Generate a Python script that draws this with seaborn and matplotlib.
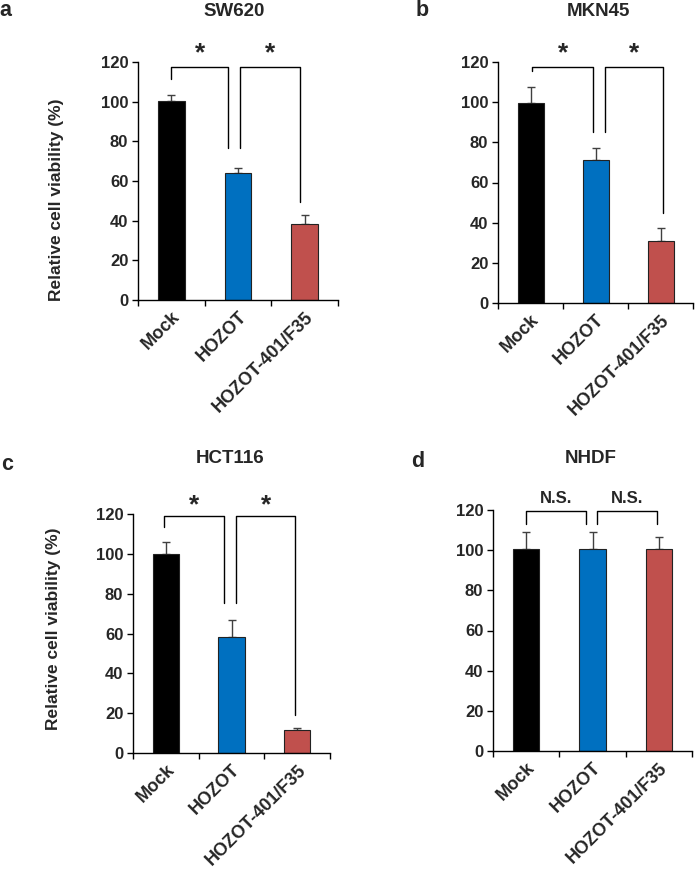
import matplotlib
matplotlib.use("Agg")
import matplotlib.pyplot as plt
import seaborn as sns
import pandas as pd
import numpy as np

sns.set_style("white")
plt.rcParams['font.family'] = ['Liberation Sans', 'DejaVu Sans']
plt.rcParams['font.weight'] = 'bold'

groups = ["Mock", "HOZOT", "HOZOT-401/F35"]
colors = ["#000000", "#0070C0", "#C0504D"]

sw620_vals = [100.3, 63.8, 38.3]
sw620_err = [3.3, 3.0, 4.8]
mkn45_vals = [99.8, 71.1, 30.9]
mkn45_err = [7.8, 6.1, 6.2]
hct116_vals = [99.9, 58.0, 11.3]
hct116_err = [5.9, 8.9, 1.5]
nhdf_vals = [100.5, 100.5, 100.5]
nhdf_err = [8.7, 8.7, 5.9]

titles = ["SW620", "MKN45", "HCT116", "NHDF"]
letters = ["a", "b", "c", "d"]
yticks = [0, 20, 40, 60, 80, 100, 120]
ylabel = "Relative cell viability (%)"

W, H = 697, 869
fig = plt.figure(figsize=(W / 100, H / 100), dpi=100)

def px_axes(l, r, t, b):
    return fig.add_axes([l / W, 1 - b / H, (r - l) / W, (b - t) / H])

# bracket specs: (x1, x2, top, left_bottom, right_bottom)
panels = [
    dict(vals=sw620_vals, err=sw620_err, box=(138, 338, 62, 300), ylab=True,
         ylab_pos=(-0.37, 0.42),
         brackets=[(0.0, 0.85, 117.5, 111.3, 76.4), (1.03, 1.93, 117.5, 76.4, 49.5)],
         sig="*", title_xy=(234, 11), letter_xy=(5, 11)),
    dict(vals=mkn45_vals, err=mkn45_err, box=(498, 693, 62, 303), ylab=False,
         brackets=[(0.03, 0.96, 117.5, 115.5, 85.2), (1.15, 2.04, 117.5, 85.2, 44.7)],
         sig="*", title_xy=(598, 11), letter_xy=(422, 10)),
    dict(vals=hct116_vals, err=hct116_err, box=(133, 330, 514, 753), ylab=True,
         ylab_pos=(-0.365, 0.52),
         brackets=[(-0.03, 0.89, 119.0, 113.5, 75.4), (1.07, 1.97, 119.0, 75.4, 19.2)],
         sig="*", title_xy=(230, 458), letter_xy=(7, 465)),
    dict(vals=nhdf_vals, err=nhdf_err, box=(493, 692, 510, 751), ylab=False,
         brackets=[(0.0, 0.9, 119.7, 113.0, 113.0), (1.07, 1.97, 119.7, 113.0, 113.0)],
         sig="N.S.", title_xy=(591, 458), letter_xy=(418, 462)),
]

for i, p in enumerate(panels):
    l, r, t, b = p["box"]
    ax = px_axes(l, r, t, b)
    df = pd.DataFrame({"group": groups, "value": p["vals"]})
    sns.barplot(data=df, x="group", y="value", hue="group", palette=colors,
                order=groups, hue_order=groups, legend=False, errorbar=None,
                saturation=1, width=0.4, edgecolor="#222222", linewidth=0.8,
                ax=ax, zorder=2)
    xs = np.arange(len(groups))
    ax.errorbar(xs, p["vals"], yerr=[np.zeros(3), p["err"]], fmt="none",
                ecolor="#404040", elinewidth=1.0, capsize=3, capthick=1.0, zorder=1)
    ax.set_xlim(-0.5, 2.5)
    ax.set_ylim(0, 120)
    ax.set_yticks(yticks)
    ax.set_yticklabels([str(v) for v in yticks], fontsize=12, fontweight="bold")
    ax.set_xticks(xs)
    ax.set_xticklabels(groups, rotation=45, ha="right", rotation_mode="anchor",
                       fontsize=13, fontweight="bold")
    ax.set_xticks([-0.5, 0.5, 1.5, 2.5], minor=True)
    ax.tick_params(axis="x", which="major", length=0, pad=6)
    ax.tick_params(axis="x", which="minor", length=4, width=1, color="black",
                   direction="out", bottom=True)
    ax.tick_params(axis="y", length=4, width=1, color="black", direction="out",
                   left=True, pad=3)
    for s in ["top", "right"]:
        ax.spines[s].set_visible(False)
    for s in ["left", "bottom"]:
        ax.spines[s].set_color("black")
        ax.spines[s].set_linewidth(1.0)
    ax.set_xlabel("")
    if p["ylab"]:
        ax.set_ylabel(ylabel, fontsize=12.5, fontweight="bold")
        ax.yaxis.set_label_coords(*p["ylab_pos"])
    else:
        ax.set_ylabel("")
    for (x1, x2, top, lb, rb) in p["brackets"]:
        ax.plot([x1, x1, x2, x2], [lb, top, top, rb], color="black", lw=1.0,
                clip_on=False, zorder=3)
        if p["sig"] == "*":
            ax.text((x1 + x2) / 2, 121, "*", ha="center", va="baseline",
                    fontsize=19, fontweight="bold", clip_on=False)
        else:
            ax.text((x1 + x2) / 2, 125.6, "N.S.", ha="center", va="center",
                    fontsize=12, fontweight="bold", clip_on=False)
    tx, ty = p["title_xy"]
    fig.text(tx / W, 1 - ty / H, titles[i], ha="center", va="center",
             fontsize=13.5, fontweight="bold")
    lx, ly = p["letter_xy"]
    fig.text(lx / W, 1 - ly / H, letters[i], ha="center", va="center",
             fontsize=15.5, fontweight="bold")

fig.savefig("out.png", dpi=100)
